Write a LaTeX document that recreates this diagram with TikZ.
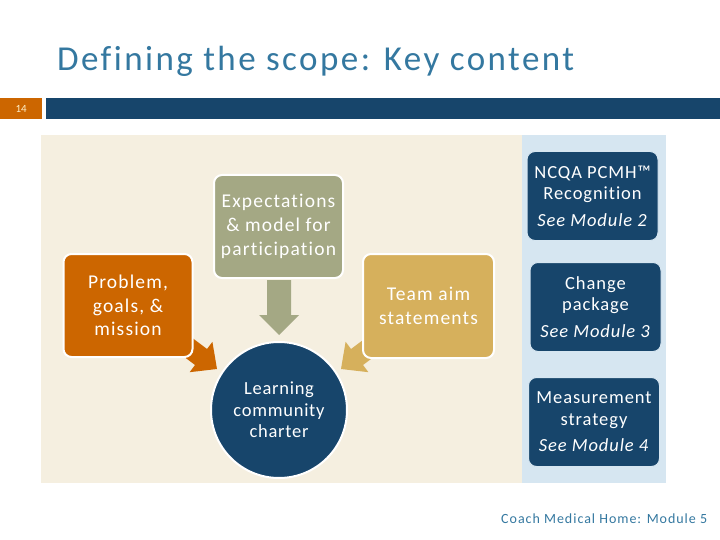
\documentclass[tikz,border=0pt]{standalone}
\usepackage{fontspec}
\setmainfont{Carlito}[Ligatures={NoCommon,NoRare}]
\definecolor{titleblue}{RGB}{52,120,160}
\definecolor{navy}{RGB}{23,69,107}
\definecolor{orangeC}{RGB}{204,102,0}
\definecolor{greenC}{RGB}{164,168,132}
\definecolor{tanC}{RGB}{214,176,92}
\definecolor{beige}{RGB}{245,239,224}
\definecolor{lightblue}{RGB}{214,230,241}
\definecolor{numtext}{RGB}{255,240,200}
\tikzset{
  box/.style={draw=white, line width=2pt, rounded corners=8pt, text=white, align=center, inner sep=0pt,
    font=\fontsize{19.5}{23.8}\selectfont\addfontfeature{LetterSpace=6}},
  sidebox/.style={fill=navy, draw=lightblue, line width=1pt, rounded corners=8pt, text=white, align=center, inner sep=0pt,
    minimum width=131pt, minimum height=89pt, font=\fontsize{18.5}{21.5}\selectfont\addfontfeature{LetterSpace=5}},
}
\begin{document}
\begin{tikzpicture}[x=1pt,y=-1pt]
\useasboundingbox (0,0) rectangle (720,540);
\fill[white] (0,0) rectangle (720,540);
% title
\node[anchor=base west, text=titleblue, font=\fontsize{35}{38}\selectfont\addfontfeature{LetterSpace=7}, inner sep=0pt] (title) at (57,71) {Defining the scope: Key content};
% header bar
\node[fill=orangeC, minimum width=42pt, minimum height=21pt, inner sep=0pt, anchor=north west, text=numtext, font=\fontsize{11}{11}\selectfont] (num) at (0,98) {14};
\node[fill=navy, minimum width=674pt, minimum height=21pt, inner sep=0pt, anchor=north west] (bar) at (46,98) {};
% panels
\node[fill=beige, minimum width=481pt, minimum height=348pt, inner sep=0pt, anchor=north west] (leftpanel) at (41,135) {};
\node[fill=lightblue, minimum width=144pt, minimum height=348pt, inner sep=0pt, anchor=north west] (rightpanel) at (522,135) {};
% block arrows
\fill[orangeC] (179,328) -- (207,349) -- (212.4,341.8) -- (217,369) -- (189.6,372.2) -- (195,365) -- (167,344) -- cycle;
\fill[tanC] (379,328) -- (351,349) -- (345.6,341.8) -- (341,369) -- (368.4,372.2) -- (363,365) -- (391,344) -- cycle;
\fill[greenC] (267,280) -- (291,280) -- (291,315) -- (299,315) -- (279,335) -- (259,315) -- (267,315) -- cycle;
% boxes
\node[box, fill=orangeC, minimum width=129pt, minimum height=103pt] (prob) at (128,305.5) {Problem,\\goals, \&\\mission};
\node[box, fill=greenC, minimum width=129pt, minimum height=103pt] (exp) at (278.5,226.5) {Expectations\\\& model for\\participation};
\node[box, fill=tanC, minimum width=131pt, minimum height=104pt] (team) at (428.5,306) {Team aim\\statements};
\node[box, circle, fill=navy, minimum size=136pt, font=\fontsize{18.5}{21.5}\selectfont\addfontfeature{LetterSpace=4}] (charter) at (279,410) {Learning\\community\\charter};
% side boxes
\node[sidebox] (ncqa) at (592.5,196) {NCQA PCMH™\\Recognition\\[5pt]\textit{See Module 2}};
\node[sidebox] (change) at (595.5,307) {Change\\package\\[5pt]\textit{See Module 3}};
\node[sidebox] (meas) at (594,422) {Measurement\\strategy\\[5pt]\textit{See Module 4}};
% footer
\node[anchor=base west, text=titleblue, font=\fontsize{14}{16}\selectfont\addfontfeature{LetterSpace=7}, inner sep=0pt] (footer) at (501,523) {Coach Medical Home: Module 5};
\end{tikzpicture}
\end{document}
